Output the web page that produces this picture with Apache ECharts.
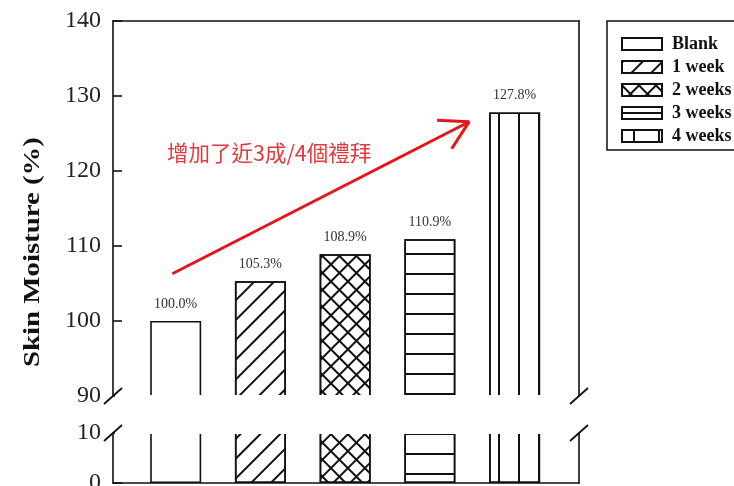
<!DOCTYPE html>
<html><head><meta charset="utf-8">
<script src="https://cdn.jsdelivr.net/npm/echarts@6/dist/echarts.min.js"></script>
<style>html,body{margin:0;padding:0;background:#fff}#c{width:734px;height:486px}</style>
</head><body><div id="c"></div>
<script>
// ---- data ----
const categories = ['Blank', '1 week', '2 weeks', '3 weeks', '4 weeks'];
const values = [100.0, 105.3, 108.9, 110.9, 127.8];
const upperRange = [90, 140];
const lowerRange = [0, 10];
const tickStep = 10;
const yAxisTitle = 'Skin Moisture (%)';
const noteText = '增加了近3成/4個禮拜';
const arrowFrom = [-0.04, 106.3];
const arrowTo = [3.47, 126.6];

// ---- style ----
const INK = '#111';
const SERIF = 'Liberation Serif';
const xMin = -0.74, xMax = 4.76;
const decals = [
  null,
  { symbol: 'rect', color: INK, dashArrayX: [1, 0], dashArrayY: [2, 12], rotation: -Math.PI / 4 },
  { symbol: 'rect', color: INK, dashArrayX: [[1, 0], [2, 10]], dashArrayY: [2, 0, 10, 0], rotation: Math.PI / 4 },
  { symbol: 'rect', color: INK, dashArrayX: [1, 0], dashArrayY: [0, 13, 2, 5] },
  { symbol: 'rect', color: INK, dashArrayX: [0, 18, 2, 0], dashArrayY: [1, 0] }
];
// legend icons are small, so their patterns are phased to the icon box
const legendDecals = [
  null, null, null,
  { symbol: 'rect', color: INK, dashArrayX: [1, 0], dashArrayY: [0, 5, 2, 5] },
  { symbol: 'rect', color: INK, dashArrayX: [0, 11, 2, 12], dashArrayY: [1, 0] }
];
const chevron = 'path://M1.3,-0.75 L17.3,26.95 L14.7,28.45 L-1.3,0.75 Z M-1.3,-0.75 L-17.3,26.95 L-14.7,28.45 L1.3,0.75 Z';

const chart = echarts.init(document.getElementById('c'), null, { renderer: 'canvas' });

const axisLineStyle = { show: true, onZero: false, lineStyle: { color: INK, width: 1.6 } };
const lineAxis = (extra) => Object.assign({
  axisLine: axisLineStyle,
  axisTick: { show: false }, axisLabel: { show: false }, splitLine: { show: false }
}, extra);
const tickAxis = (extra) => Object.assign({
  axisLine: axisLineStyle,
  axisTick: { show: true, inside: true, length: 9, lineStyle: { color: INK, width: 1.6 } },
  axisLabel: { fontFamily: SERIF, fontSize: 24, color: '#222', margin: 12 },
  splitLine: { show: false }
}, extra);

const series = [];
categories.forEach((name, i) => {
  const itemStyle = { color: '#fff', borderColor: INK, borderWidth: 1.6 };
  if (decals[i]) itemStyle.decal = decals[i];
  series.push({
    type: 'bar', name, xAxisIndex: 0, yAxisIndex: 0, barWidth: 51, barGap: '-100%',
    data: [[i, values[i]]], itemStyle, emphasis: { disabled: true },
    label: { show: true, position: 'top', distance: 10, fontFamily: SERIF, fontSize: 14, color: '#333',
      formatter: p => p.value[1].toFixed(1) + '%' },
    markLine: i === 0 ? {
      silent: true, symbol: ['none', chevron], symbolSize: [34.6, 29.2], symbolOffset: [0, [0, 14.6]],
      lineStyle: { color: '#e8141a', width: 3, type: 'solid' }, label: { show: false },
      data: [[{ coord: arrowFrom }, { coord: arrowTo }]]
    } : undefined
  });
  series.push({
    type: 'bar', name, xAxisIndex: 2, yAxisIndex: 2, barWidth: 51, barGap: '-100%',
    data: [[i, values[i]]], itemStyle, emphasis: { disabled: true }
  });
});

const legendData = categories.map((name, i) =>
  legendDecals[i] ? { name, itemStyle: { decal: legendDecals[i] } } : { name });

chart.setOption({
  animation: false,
  backgroundColor: '#fff',
  grid: [
    { left: 113, right: 155, top: 21, height: 375, outerBoundsMode: 'none', containLabel: false },
    { left: 113, right: 155, top: 433, height: 50, outerBoundsMode: 'none', containLabel: false }
  ],
  legend: {
    data: legendData, orient: 'vertical', left: 607, top: 21, align: 'left', icon: 'rect',
    padding: [14, 12, 5, 14], itemGap: 5, itemWidth: 40, itemHeight: 12,
    borderColor: INK, borderWidth: 1.5, borderRadius: 0,
    textStyle: { fontFamily: SERIF, fontWeight: 'bold', fontSize: 18, color: '#111', padding: [0, 0, 0, 5] },
    selectedMode: false
  },
  xAxis: [
    { type: 'value', gridIndex: 0, min: xMin, max: xMax, show: false },
    lineAxis({ type: 'value', gridIndex: 0, min: xMin, max: xMax, position: 'top' }),
    lineAxis({ type: 'value', gridIndex: 1, min: xMin, max: xMax, position: 'bottom' })
  ],
  yAxis: [
    tickAxis({ type: 'value', gridIndex: 0, min: upperRange[0], max: upperRange[1], interval: tickStep, position: 'left' }),
    lineAxis({ type: 'value', gridIndex: 0, min: upperRange[0], max: upperRange[1], position: 'right' }),
    tickAxis({ type: 'value', gridIndex: 1, min: lowerRange[0], max: lowerRange[1], interval: tickStep, position: 'left' }),
    lineAxis({ type: 'value', gridIndex: 1, min: lowerRange[0], max: lowerRange[1], position: 'right' })
  ],
  series
});

// break marks, mask and texts
const yBreakTop = chart.convertToPixel({ yAxisIndex: 0 }, upperRange[0]);
const yBreakBot = chart.convertToPixel({ yAxisIndex: 2 }, lowerRange[1]);
const xL = chart.convertToPixel({ xAxisIndex: 0 }, xMin);
const xR = chart.convertToPixel({ xAxisIndex: 0 }, xMax);
const slash = (cx, cy) => ({ type: 'line', z: 101, shape: { x1: cx - 9, y1: cy + 8, x2: cx + 9, y2: cy - 8 },
  style: { stroke: INK, lineWidth: 1.8 } });
chart.setOption({
  graphic: [
    { type: 'rect', z: 100, shape: { x: xL + 2, y: yBreakTop - 0.9, width: xR - xL - 4, height: yBreakBot - yBreakTop + 1.8 },
      style: { fill: '#fff' } },
    slash(xL, yBreakTop), slash(xL, yBreakBot), slash(xR, yBreakTop), slash(xR, yBreakBot),
    { type: 'text', z: 101, x: 33, y: 252, rotation: Math.PI / 2, scaleX: 1.2,
      style: { text: yAxisTitle, font: 'bold 24px "Liberation Serif"', fill: '#111', textAlign: 'center', textVerticalAlign: 'middle' } },
    { type: 'text', z: 101, x: 167, y: 153,
      style: { text: noteText, font: '21.5px "Noto Sans CJK TC"', fill: '#e0393e', textAlign: 'left', textVerticalAlign: 'middle' } }
  ]
});
</script></body></html>
